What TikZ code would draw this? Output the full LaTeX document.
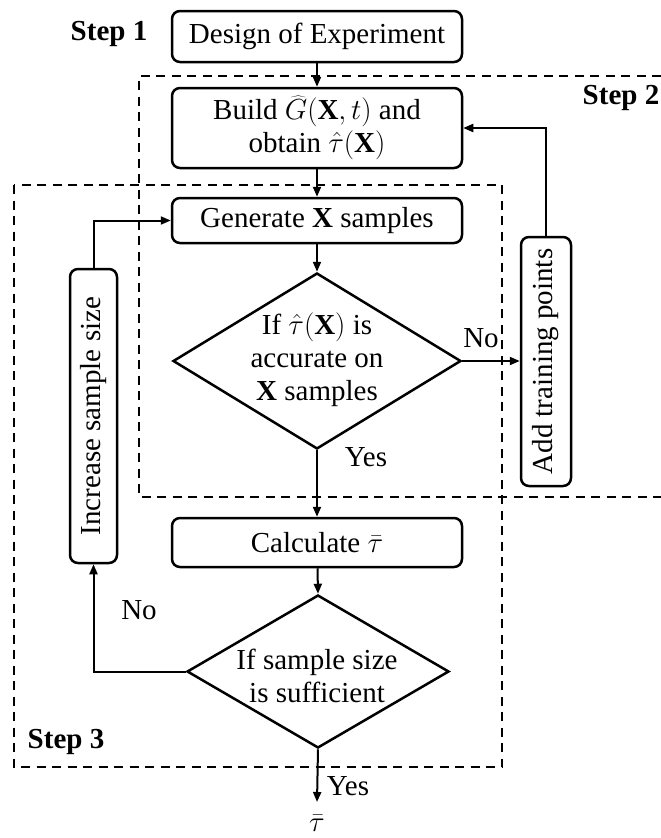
\RequirePackage{fix-cm}
\documentclass[tikz,border=0pt]{standalone}
\usepackage{fontspec}
\setmainfont{Liberation Serif}
\usetikzlibrary{shapes.geometric,arrows.meta,calc}

\tikzset{
  txt/.style={font=\fontsize{29pt}{33pt}\selectfont, align=center},
  stepbox/.style={txt, draw, rectangle, rounded corners=8pt, line width=2.5pt,
                  inner sep=0pt, minimum width=290pt},
  sidebox/.style={txt, draw, rectangle, rounded corners=8pt, line width=2.5pt,
                  inner sep=0pt, rotate=90},
  decision/.style={draw, diamond, line width=2.5pt, inner sep=0pt},
  flow/.style={line width=2pt, -{Triangle[length=10pt,width=8pt]}},
  region/.style={line width=2pt, dash pattern=on 9pt off 6.5pt},
  steplabel/.style={font=\fontsize{29pt}{33pt}\selectfont\bfseries},
  lbl/.style={font=\fontsize{29pt}{33pt}\selectfont}
}

\begin{document}
\begin{tikzpicture}[x=1pt, y=-1pt]
  \useasboundingbox (0,0) rectangle (661,838);

  % dashed regions for steps 2 and 3
  \draw[region] (661,76) -- (139,76) -- (139,497) -- (661,497);
  \draw[region] (14,185) rectangle (502,767);

  % step labels
  \node[steplabel] (s1) at (109,34) {Step 1};
  \node[steplabel] (s2) at (621,98) {Step 2};
  \node[steplabel] (s3) at (66,742) {Step 3};

  % process boxes
  \node[stepbox, minimum height=51pt] (doe) at (317,36.5) {Design of Experiment};
  \node[stepbox, minimum height=80pt] (build) at (317,128)
    {Build $\widehat{G}(\mathbf{X},t)$ and\\obtain $\hat{\tau}(\mathbf{X})$};
  \node[stepbox, minimum height=45pt] (gen) at (317,220.5) {Generate $\mathbf{X}$ samples};
  \node[stepbox, minimum height=49pt] (calc) at (317,542.5) {Calculate $\bar{\tau}$};

  % decisions
  \node[decision, minimum width=288pt, minimum height=176pt] (d1) at (317,361) {};
  \node[txt] (d1t) at (317,360) {If $\hat{\tau}(\mathbf{X})$ is\\accurate on\\$\mathbf{X}$ samples};
  \node[decision, minimum width=262pt, minimum height=153pt] (d2) at (318,671.5) {};
  \node[txt] (d2t) at (317,676) {If sample size\\is sufficient};

  % side boxes
  \node[sidebox, minimum width=294pt, minimum height=47pt] (inc) at (93.5,416) {Increase sample size};
  \node[sidebox, minimum width=249pt, minimum height=50pt] (add) at (546,361.5) {Add training points};

  % result
  \coordinate (out) at (317,802);
  \node[lbl] (res) at (317,823) {$\bar{\tau}$};

  % connectors
  \draw[flow] (doe) -- (build);
  \draw[flow] (build) -- (gen);
  \draw[flow] (gen) -- (d1.north);
  \draw[flow] (d1.east) -- (d1.east -| add.north);
  \draw[flow] (add.east) |- (build.east);
  \draw[flow] (d1.south) -- (calc);
  \draw[flow] (calc) -- (d2.north);
  \draw[flow] (d2.west) -| (inc.west);
  \draw[flow] (inc.east) |- (gen.west);
  \draw[flow] (d2.south) -- (out);

  % branch labels
  \node[lbl] (no1) at (481,338) {No};
  \node[lbl] (yes1) at (366,457) {Yes};
  \node[lbl] (no2) at (139,610) {No};
  \node[lbl] (yes2) at (348,786) {Yes};
\end{tikzpicture}
\end{document}
